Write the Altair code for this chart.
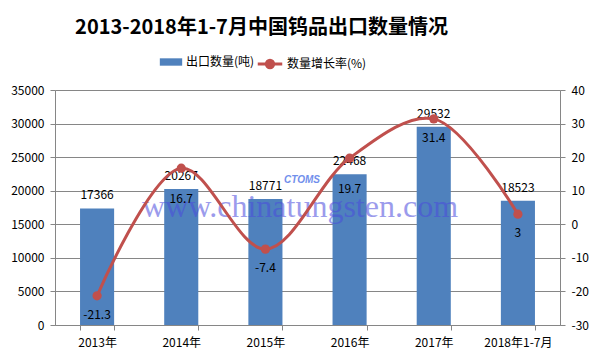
import altair as alt
import pandas as pd

years = ["2013年", "2014年", "2015年", "2016年", "2017年", "2018年1-7月"]
volume = [17366, 20267, 18771, 22468, 29532, 18523]
growth = [-21.3, 16.7, -7.4, 19.7, 31.4, 3]
left_ticks = [0, 5000, 10000, 15000, 20000, 25000, 30000, 35000]
right_ticks = [-30, -20, -10, 0, 10, 20, 30, 40]
bar_name = "出口数量(吨)"
line_name = "数量增长率(%)"
title_text = "2013-2018年1-7月中国钨品出口数量情况"
watermark = "www.chinatungsten.com"
# years whose growth labels Excel pushed further down (to avoid the bar labels)
shifted_labels = ["2014年", "2016年"]

df = pd.DataFrame({"year": years, "volume": volume, "growth": growth,
                   "s1": [bar_name] * len(years), "s2": [line_name] * len(years)})

FONT = "Noto Sans CJK SC"
BLUE = "#4F81BD"
RED = "#C0504D"
GRID = "#868686"
FS = 12

x_enc = alt.X("year:N", sort=years, title=None,
              scale=alt.Scale(paddingInner=0.595, paddingOuter=0.2975),
              axis=alt.Axis(labelAngle=0, tickBand="extent", domainColor=GRID, tickColor=GRID,
                            tickSize=5, labelFontSize=FS, labelPadding=7, labelColor="black",
                            labelFont=FONT, grid=False))

yl_axis = alt.Axis(values=left_ticks, grid=True, gridColor=GRID, domainColor=GRID, tickColor=GRID,
                   tickSize=5, labelFontSize=FS, labelPadding=6, labelColor="black", labelFont=FONT,
                   orient="left", labelExpr="toString(datum.value)")
yr_axis = alt.Axis(values=right_ticks, grid=False, domainColor=GRID, tickColor=GRID,
                   tickSize=5, labelFontSize=FS, labelPadding=6, labelColor="black", labelFont=FONT,
                   orient="right", labelExpr="toString(datum.value)")
yl = alt.Y("volume:Q", title=None, scale=alt.Scale(domain=[0, 35000], nice=False), axis=yl_axis)
yr = alt.Y("growth:Q", title=None, scale=alt.Scale(domain=[-30, 40], nice=False), axis=yr_axis)

base = alt.Chart(df)

bars = base.mark_bar().encode(
    x=x_enc, y=yl,
    color=alt.Color("s1:N", scale=alt.Scale(range=[BLUE]),
                    legend=alt.Legend(title=None, orient="none", legendX=104, legendY=-40,
                                      symbolType="M-1,-0.33H1V0.33H-1Z", symbolSize=500,
                                      symbolOpacity=1, labelFontSize=12, labelFont=FONT,
                                      labelColor="black", labelOffset=3)))
bar_text = base.mark_text(baseline="bottom", dy=-6, fontSize=FS, font=FONT, color="black").encode(
    x=x_enc, y=yl, text=alt.Text("volume:Q", format="d"))
left = alt.layer(bars, bar_text)

wm = alt.Chart(alt.Data(values=[{"a": 1}])).mark_text(
    text=watermark, font="Liberation Serif", fontSize=32, color="#4B4BDD", opacity=0.55,
    align="center", baseline="middle").encode(x=alt.value(245), y=alt.value(117))
wm2 = alt.Chart(alt.Data(values=[{"a": 1}])).mark_text(
    text="CTOMS", font="Liberation Sans", fontSize=10, fontStyle="italic", fontWeight="bold",
    color="#4E74E8", opacity=0.8, align="center", baseline="middle").encode(
    x=alt.value(247), y=alt.value(90))

line = base.mark_line(interpolate="catmull-rom", strokeWidth=3).encode(
    x=x_enc, y=yr,
    stroke=alt.Stroke("s2:N", scale=alt.Scale(range=[RED]),
                      legend=alt.Legend(title=None, orient="none", legendX=201, legendY=-40,
                                        symbolType="M-1,0H1M-0.3,0A0.3,0.3,0,1,1,0.3,0A0.3,0.3,0,1,1,-0.3,0Z",
                                        symbolSize=600, symbolStrokeWidth=3, symbolFillColor=RED,
                                        labelFontSize=12, labelFont=FONT, labelColor="black",
                                        labelOffset=3)))
points = base.mark_circle(size=85, color=RED, opacity=1).encode(x=x_enc, y=yr)
line_text = base.transform_filter(
    alt.FieldOneOfPredicate(field="year", oneOf=[y for y in years if y not in shifted_labels])
).transform_calculate(lab="toString(datum.growth)").mark_text(
    baseline="middle", dy=19, fontSize=FS, font=FONT, color="black").encode(
    x=x_enc, y=yr, text="lab:N")
line_text2 = base.transform_filter(
    alt.FieldOneOfPredicate(field="year", oneOf=shifted_labels)
).transform_calculate(lab="toString(datum.growth)").mark_text(
    baseline="middle", dy=31, fontSize=FS, font=FONT, color="black").encode(
    x=x_enc, y=yr, text="lab:N")
right = alt.layer(line, points, line_text, line_text2)

chart = alt.layer(left, wm, wm2, right).resolve_scale(y="independent", color="independent").properties(
    width=505, height=235,
    title=alt.TitleParams(title_text, font=FONT, fontSize=20, fontWeight="bold", color="black",
                          anchor="middle", dx=-46, offset=12),
    autosize=alt.AutoSizeParams(type="none"),
    padding={"left": 47, "top": 82, "right": 32, "bottom": 27},
).configure_view(stroke=None).configure(background="white")

chart.save("out.html", embed_options={"renderer": "svg", "actions": False})
